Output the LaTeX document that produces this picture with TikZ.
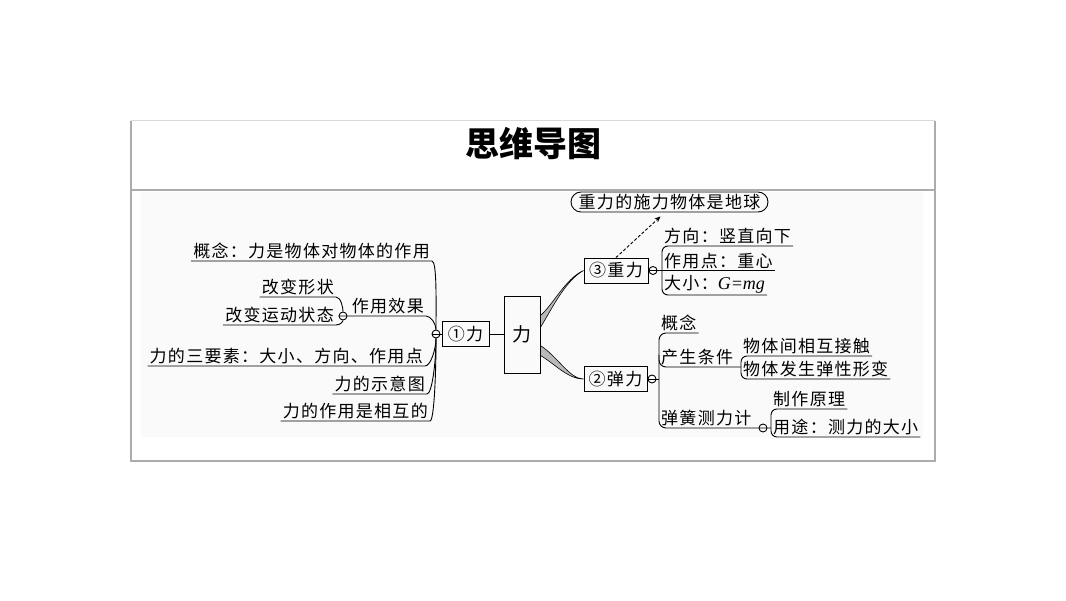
\documentclass[tikz,border=0pt]{standalone}
\usepackage{fontspec}
\usetikzlibrary{arrows.meta}
\newfontfamily\cjk{Noto Sans CJK SC}[LetterSpace=7.6]
\newfontfamily\cjkplain{Noto Sans CJK SC}
\newfontfamily\tms{Liberation Serif}
\tikzset{
  ln/.style={line width=0.9pt, black},
  txt/.style={font=\cjk\fontsize{17}{18}\selectfont, inner xsep=2pt, inner ysep=1.5pt},
  box/.style={draw, line width=0.9pt, inner sep=0pt, minimum height=25pt, font=\cjk\fontsize{17}{18}\selectfont},
  oval/.style={draw, line width=0.9pt, rounded corners=10pt, inner xsep=6pt, inner ysep=0pt, minimum height=20pt, minimum width=197pt, font=\cjk\fontsize{17}{18}\selectfont},
  cnode/.style={circle, draw, fill=white, line width=0.9pt, inner sep=0pt, minimum size=8pt},
  wedge/.style={fill=gray!55, draw=black, line width=0.6pt},
  title/.style={font=\cjkplain\bfseries\fontsize{34}{40}\selectfont, inner sep=0pt}
}
\begin{document}
\begin{tikzpicture}[x=1pt,y=1pt]
\useasboundingbox (0,0) rectangle (1066,600);
\fill[white] (0,0) rectangle (1066,600);
% frame
\fill[black!2] (141,163) rectangle (923,408);
\draw[gray!30, line width=1pt] (131,479) -- (935,479);
\draw[gray!65, line width=1.2pt] (131,479) -- (131,139) -- (935,139) -- (935,479);
\draw[gray!65, line width=1.2pt] (131,410) -- (935,410);
\node[title] (title) at (533,456) {思维导图};

% main boxes
\node[box, minimum width=36pt, minimum height=77pt, font=\cjk\fontsize{19}{20}\selectfont] (li) at (522,265.5) {力};
\node[box, minimum width=47pt] (n1) at (465.5,266) {①力};
\node[box, minimum width=64pt] (n3) at (616,329.5) {③重力};
\node[box, minimum width=63pt] (n2) at (615.5,221) {②弹力};
\node[oval] (ov) at (669.5,398) {重力的施力物体是地球};

% junction circles
\node[cnode] (c1) at (436,266) {};
\node[cnode] (c2) at (343,284) {};
\node[cnode] (c3) at (653,329.5) {};
\node[cnode] (c4) at (652,221) {};
\node[cnode] (c5) at (763,172) {};

% left leaves
\node[txt, anchor=south east] (a1) at (432,339) {概念：力是物体对物体的作用};
\node[txt, anchor=south east] (a2) at (426,284) {作用效果};
\node[txt, anchor=south east] (a21) at (336,303) {改变形状};
\node[txt, anchor=south east] (a22) at (336,275) {改变运动状态};
\node[txt, anchor=south east] (a3) at (425,234) {力的三要素：大小、方向、作用点};
\node[txt, anchor=south east] (a4) at (427,206) {力的示意图};
\node[txt, anchor=south east] (a5) at (430,179) {力的作用是相互的};

% right leaves (gravity)
\node[txt, anchor=south west] (b1) at (662,354) {方向：竖直向下};
\node[txt, anchor=south west] (b2) at (662,329.5) {作用点：重心};
\node[txt, anchor=south west] (b3) at (662,305) {大小：{\tms\itshape\fontsize{18}{18}\selectfont G=mg}};

% right leaves (elastic force)
\node[txt, anchor=south west] (k1) at (659,267) {概念};
\node[txt, anchor=south west] (k2) at (659,233) {产生条件};
\node[txt, anchor=south west] (k21) at (741,244) {物体间相互接触};
\node[txt, anchor=south west] (k22) at (741,221) {物体发生弹性形变};
\node[txt, anchor=south west] (k4) at (659,172) {弹簧测力计};
\node[txt, anchor=south west] (m1) at (771,191) {制作原理};
\node[txt, anchor=south west] (m2) at (771,163) {用途：测力的大小};

% left connectors
\draw[ln] (c1.west) -- (n1.west);
\draw[ln] (n1.east) -- (n1.east -| li.west);
\draw[ln] (a1.south west) -- (a1.south east) .. controls +(5,0) and +(0,30) .. (c1);
\draw[ln] (c2.west) -- (a2.south east) .. controls +(5,0) and +(0,10) .. (c1);
\draw[ln] (a21.south west) -- (a21.south east) .. controls +(5,0) and +(0,8) .. (c2);
\draw[ln] (a22.south west) -- (a22.south east) .. controls +(5,0) and +(0,-5) .. (c2);
\draw[ln] (a3.south west) -- (a3.south east) .. controls +(6,0) and +(0,-14) .. (c1);
\draw[ln] (a4.south west) -- (a4.south east) .. controls +(5,0) and +(0,-28) .. (c1);
\draw[ln] (a5.south west) -- (a5.south east) .. controls +(4,0) and +(0,-42) .. (c1);

% tapered branches
\filldraw[wedge] ([yshift=19pt]li.east) .. controls +(12,10) and +(-18,-8) .. (n3.west)
  .. controls +(-18,-10) and +(12,20) .. ([yshift=7pt]li.east) -- cycle;
\filldraw[wedge] ([yshift=-11pt]li.east) .. controls +(18,-12) and +(-14,0) .. (n2.west)
  .. controls +(-16,0) and +(14,-8) .. ([yshift=-21pt]li.east) -- cycle;

% gravity connectors
\draw[ln, dashed, dash pattern=on 3pt off 2pt, -{Stealth[length=6pt,width=5pt]}] (n3.north) -- ([xshift=-9pt,yshift=-4pt]ov.south);
\draw[ln] (n3.east) -- (b2.south east);
\draw[ln, rounded corners=6pt] (b1.south east) -- (b1.south west) -- (b3.south west) -- (b3.south east);

% elastic connectors
\draw[ln] (n2.east) -- (k1.south west |- n2.east);
\draw[ln, rounded corners=7pt] (k1.south east) -- (k1.south west) -- (k4.south west) -- (m1.south west |- k4.south);
\draw[ln, rounded corners=7pt] ([yshift=12pt]k2.south west) -- (k2.south west) -- (k21.south west |- k2.south);
\draw[ln, rounded corners=6pt] (k21.south east) -- (k21.south west) -- (k22.south west) -- (k22.south east);
\draw[ln, rounded corners=6pt] (m1.south east) -- (m1.south west) -- (m2.south west) -- (m2.south east);
\end{tikzpicture}
\end{document}
